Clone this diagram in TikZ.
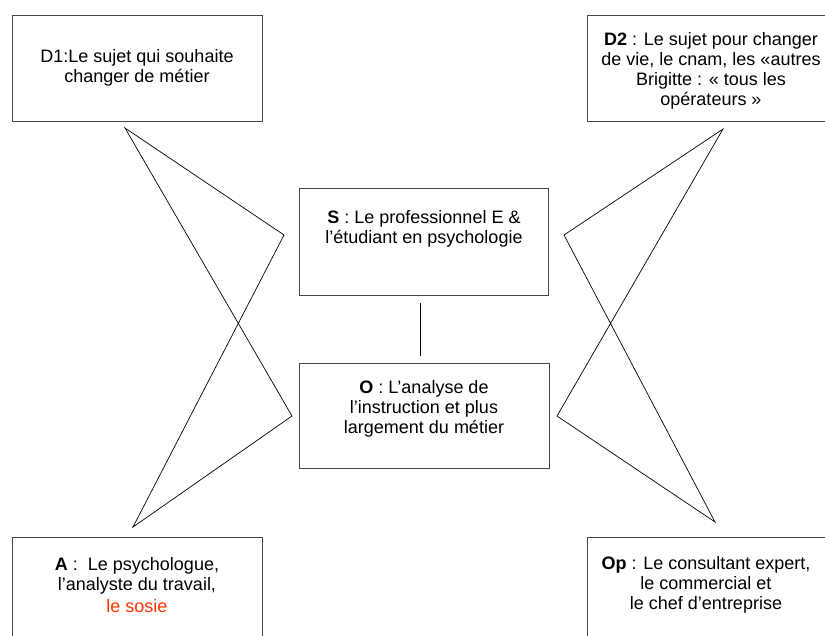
\documentclass[tikz,border=0pt]{standalone}
\usepackage{fontspec}
\setmainfont{Liberation Sans}
\definecolor{sosie}{RGB}{255,51,0}
\definecolor{boxline}{RGB}{70,70,70}

\begin{document}
\begin{tikzpicture}[x=1pt,y=-1pt,
  frame/.style={draw=boxline, line width=0.9pt, rectangle, inner sep=0pt, outer sep=0pt},
  caption/.style={align=center, font=\fontsize{18}{20}\selectfont, inner sep=0pt, anchor=base},
  link/.style={draw=black, line width=0.7pt, line join=miter}]
\useasboundingbox (0,0) rectangle (825,635);
\clip (0,0) rectangle (825,635);

% boxes
\node[frame, minimum width=250pt, minimum height=106pt] (D1) at (137,68) {};
\node[frame, minimum width=248pt, minimum height=106pt] (D2) at (711,68) {};
\node[frame, minimum width=249pt, minimum height=107pt] (S) at (423.5,241.5) {};
\node[frame, minimum width=250pt, minimum height=105pt] (O) at (424,415.5) {};
\node[frame, minimum width=250pt, minimum height=108pt] (A) at (137,591) {};
\node[frame, minimum width=248pt, minimum height=108pt] (Op) at (711,591) {};

% texts (positioned by the baseline of their last line)
\node[caption] (tD1) at (137,82) {D1:Le sujet qui souhaite\\changer de métier};
\node[caption] (tD2) at (711,105) {\textbf{D2} : Le sujet pour changer\\de vie, le cnam, les «autres\\Brigitte : « tous les\\opérateurs »};
\node[caption] (tS) at (424,243) {\textbf{S} : Le professionnel E \&\\l’étudiant en psychologie};
\node[caption] (tO) at (424,433) {\textbf{O} : L’analyse de\\l’instruction et plus\\largement du métier};
\node[caption] (tA) at (137,612) {\textbf{A} :\ \ Le psychologue,\\l’analyste du travail,\\[2pt]\textcolor{sosie}{le sosie}};
\node[caption] (tOp) at (706,609) {\textbf{Op} : Le consultant expert,\\le commercial et\\le chef d’entreprise};

% crossed triangles, left
\coordinate (L1) at (125,128);
\coordinate (L2) at (284,235);
\coordinate (L3) at (292,416);
\coordinate (L4) at (133,527);
\draw[link] (L1) -- (L2) -- (L4) -- (L3) -- cycle;

% crossed triangles, right
\coordinate (R1) at (723,129);
\coordinate (R2) at (564,235);
\coordinate (R3) at (557,416);
\coordinate (R4) at (715,522);
\draw[link] (R1) -- (R2) -- (R4) -- (R3) -- cycle;

% S -- O
\draw[link] ([xshift=-3.5pt,yshift=-8pt]S.south) -- ([xshift=-4pt,yshift=7pt]O.north);
\end{tikzpicture}
\end{document}
